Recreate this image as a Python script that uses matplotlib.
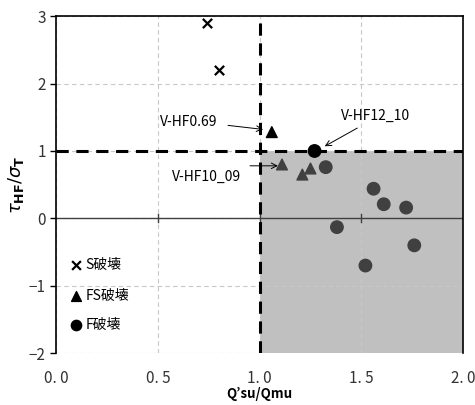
import matplotlib.pyplot as plt
from matplotlib.patches import Rectangle

plt.rcParams['font.family'] = ['Noto Sans CJK JP', 'DejaVu Sans']

# S破壊
s_x = [0.74, 0.80]
s_y = [2.90, 2.20]
# FS破壊
fs_x = [1.06, 1.11, 1.21, 1.25]
fs_y = [1.28, 0.80, 0.65, 0.74]
fs_col = ['black', '#404040', '#404040', '#404040']
# F破壊
f_x = [1.27, 1.325, 1.56, 1.61, 1.72, 1.38, 1.76, 1.52]
f_y = [1.00, 0.76, 0.44, 0.21, 0.16, -0.13, -0.40, -0.70]
f_col = ['black'] + ['#404040'] * 7

x_ticks = [0.0, 0.5, 1.0, 1.5, 2.0]
x_labels = ['0. 0', '0. 5', '1. 0', '1. 5', '2. 0']
y_ticks = [-2, -1, 0, 1, 2, 3]
y_labels = ['−2', '−1', '0', '1', '2', '3']

fig = plt.figure(figsize=(4.75, 4.05), dpi=100)
ax = fig.add_axes([0.118, 0.128, 0.857, 0.832])
ax.set_xlim(0, 2)
ax.set_ylim(-2, 3)
ax.set_axisbelow(True)

# 灰色の領域
ax.add_patch(Rectangle((1.0, -2), 1.0, 3.0, facecolor='#c0c0c0', edgecolor='none', zorder=0))

ax.grid(True, color='#c8c8c8', linestyle=(0, (4, 3)), linewidth=0.8)
ax.axhline(0, color='#404040', linewidth=1.0, zorder=1.5)
for xt in [0.5, 1.0, 1.5]:
    ax.plot([xt, xt], [-0.06, 0.06], color='#404040', linewidth=1.0, zorder=1.5)

ax.plot([1, 1], [-2, 3], color='black', linestyle=(0, (4, 2.5)), linewidth=2.2, zorder=2)
ax.plot([0, 2], [1, 1], color='black', linestyle=(0, (4, 2.5)), linewidth=2.2, zorder=2)

ax.scatter(s_x, s_y, marker='x', s=45, color='black', linewidths=1.6, zorder=4)
ax.scatter(fs_x, fs_y, marker='^', s=60, color=fs_col, zorder=4)
ax.scatter(f_x, f_y, marker='o', s=80, color=f_col, zorder=4)

# 注記
ap = dict(arrowstyle='->', color='black', linewidth=0.7, shrinkA=0, shrinkB=0)
ax.text(0.65, 1.43, 'V-HF0.69', fontsize=10, ha='center', va='center')
ax.annotate('', xy=(1.017, 1.32), xytext=(0.845, 1.38), arrowprops=ap)
ax.text(0.74, 0.61, 'V-HF10_09', fontsize=10, ha='center', va='center')
ax.annotate('', xy=(1.09, 0.78), xytext=(0.953, 0.78), arrowprops=ap)
ax.text(1.57, 1.52, 'V-HF12_10', fontsize=10, ha='center', va='center')
ax.annotate('', xy=(1.32, 1.07), xytext=(1.48, 1.34), arrowprops=ap)

# 凡例
ax.scatter([0.10], [-0.69], marker='x', s=40, color='black', linewidths=1.6, zorder=4)
ax.scatter([0.10], [-1.15], marker='^', s=50, color='black', zorder=4)
ax.scatter([0.10], [-1.58], marker='o', s=55, color='black', zorder=4)
ax.text(0.145, -0.69, 'S破壊', fontsize=10, va='center')
ax.text(0.145, -1.15, 'FS破壊', fontsize=10, va='center')
ax.text(0.145, -1.58, 'F破壊', fontsize=10, va='center')

ax.set_xticks(x_ticks)
ax.set_xticklabels(x_labels)
ax.set_yticks(y_ticks)
ax.set_yticklabels(y_labels)
ax.tick_params(axis='x', length=0, pad=12, labelsize=11, labelcolor='#333333')
ax.tick_params(axis='y', length=4, labelsize=11, labelcolor='#333333', width=1)

for side in ['left', 'right', 'top']:
    ax.spines[side].set_color('black')
    ax.spines[side].set_linewidth(1.2)
ax.spines['bottom'].set_visible(False)

ax.set_xlabel("Q’su/Qmu", fontsize=9.5, fontweight='bold', labelpad=0)
ax.set_ylabel(r'$\tau_{\mathbf{HF}}/\sigma_{\mathbf{T}}$', fontsize=13, labelpad=2)

fig.savefig('out.png', dpi=100)
